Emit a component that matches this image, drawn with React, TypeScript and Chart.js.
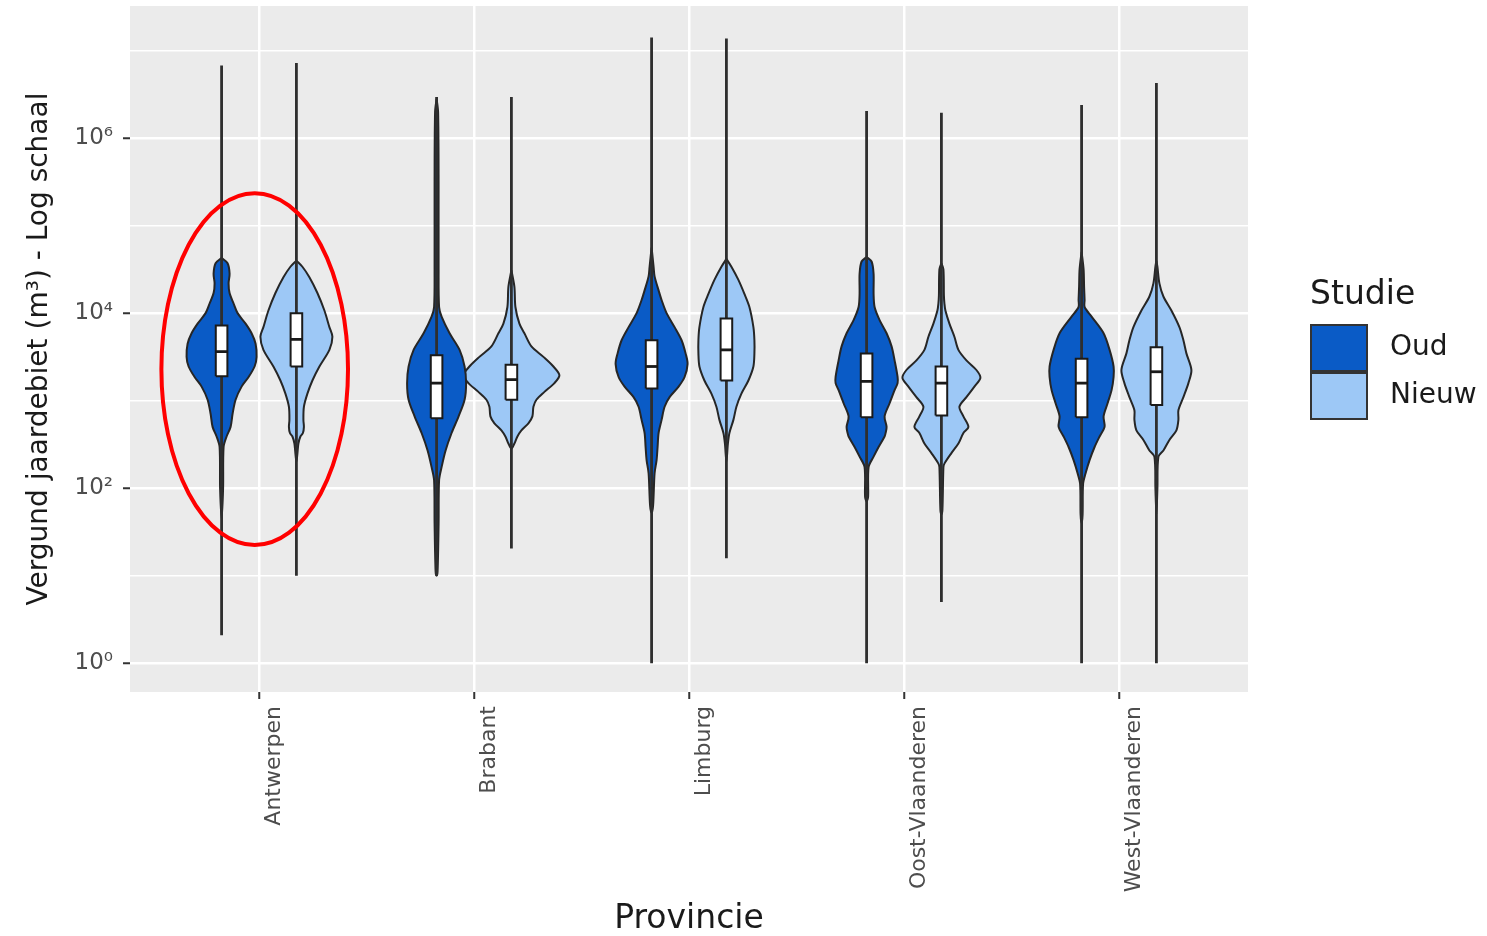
import React, { useEffect, useRef } from 'react';
import { Chart, registerables } from 'chart.js';

Chart.register(...registerables);

// ---------- DATA (y values are log10 of m³) ----------
const provinces = ['Antwerpen', 'Brabant', 'Limburg', 'Oost-Vlaanderen', 'West-Vlaanderen'];
const studies = ['Oud', 'Nieuw'];

const yTickExponents = [0, 1, 2, 3, 4, 5, 6, 7];
const yLabelExponents = [0, 2, 4, 6];

// full range of each violin (min / max, log10 m³)
const oudMinExp = [0.32, 1.0, 0.0, 0.0, 0.0];
const oudMaxExp = [6.83, 6.47, 7.15, 6.31, 6.38];
const nieuwMinExp = [1.0, 1.31, 1.2, 0.7, 0.0];
const nieuwMaxExp = [6.86, 6.47, 7.14, 6.29, 6.63];

// box plot quartiles (log10 m³)
const oudQ1 = [3.28, 2.8, 3.14, 2.81, 2.81];
const oudMedian = [3.56, 3.2, 3.39, 3.22, 3.2];
const oudQ3 = [3.86, 3.52, 3.69, 3.54, 3.48];
const nieuwQ1 = [3.39, 3.01, 3.23, 2.83, 2.95];
const nieuwMedian = [3.7, 3.24, 3.58, 3.2, 3.33];
const nieuwQ3 = [4.0, 3.41, 3.94, 3.39, 3.61];

// violin density profiles: [log10 m³, relative density]
const oudViolins = [
  [[4.63, 0], [4.57, 6], [4.45, 8], [4.34, 7], [4.23, 8], [4.11, 12], [4.0, 16], [3.88, 24], [3.77, 30], [3.65, 34], [3.5, 35], [3.39, 33], [3.27, 27], [3.16, 20], [3.01, 14], [2.85, 11], [2.7, 9], [2.59, 5], [2.47, 2], [2.0, 1.5], [1.65, 0]],
  [[6.45, 0], [6.3, 1.5], [5.5, 2], [4.5, 2], [4.07, 2.5], [3.96, 5], [3.77, 13], [3.58, 23], [3.39, 28], [3.2, 29.5], [3.01, 28], [2.82, 22], [2.63, 15], [2.43, 9], [2.24, 5], [2.09, 2.5], [1.6, 2], [1.05, 1], [1.0, 0]],
  [[4.75, 0], [4.53, 2], [4.42, 3], [4.26, 7], [4.15, 10], [4.0, 15], [3.84, 23], [3.69, 30], [3.54, 34], [3.42, 36], [3.27, 33], [3.16, 27], [3.04, 18], [2.93, 13], [2.78, 10], [2.63, 7], [2.47, 6], [2.32, 5], [2.17, 3], [1.8, 1.5], [1.72, 0]],
  [[4.64, 0], [4.59, 5], [4.45, 7], [4.22, 7], [4.07, 8], [3.92, 13], [3.77, 20], [3.62, 25], [3.46, 28], [3.27, 31], [3.2, 31], [3.12, 28], [2.97, 23], [2.82, 18], [2.7, 20], [2.63, 19], [2.59, 18], [2.47, 12], [2.36, 7], [2.24, 2], [1.9, 1.5], [1.85, 0]],
  [[4.7, 0], [4.5, 2], [4.3, 2.5], [4.15, 3], [4.07, 3], [3.96, 10], [3.77, 22], [3.58, 28], [3.39, 32], [3.27, 32], [3.12, 30], [2.97, 26], [2.82, 22], [2.7, 23], [2.59, 18], [2.47, 13], [2.32, 8], [2.17, 4], [2.05, 1.5], [1.7, 1], [1.6, 0]],
];
const nieuwViolins = [
  [[4.6, 0], [4.53, 6], [4.41, 13], [4.23, 21], [4.03, 28], [3.84, 33], [3.73, 36], [3.58, 33], [3.39, 23], [3.23, 16], [3.08, 11], [2.93, 7.5], [2.78, 7], [2.7, 7.5], [2.63, 6.5], [2.59, 4], [2.51, 2], [2.3, 0]],
  [[4.49, 0], [4.3, 3], [4.07, 4], [3.88, 8], [3.77, 13], [3.62, 20], [3.5, 32], [3.39, 42], [3.29, 48], [3.2, 43], [3.1, 33], [3.01, 25], [2.93, 22], [2.82, 21], [2.74, 17], [2.66, 10], [2.59, 6], [2.51, 3], [2.45, 0]],
  [[4.62, 0], [4.53, 5], [4.38, 12], [4.22, 18], [4.07, 23], [3.84, 27], [3.69, 28], [3.54, 28], [3.39, 27], [3.23, 22], [3.08, 15], [2.93, 10], [2.78, 7], [2.63, 3], [2.51, 1.5], [2.3, 0]],
  [[4.57, 0], [4.5, 2], [4.2, 2.5], [4.11, 3], [4.03, 4], [3.88, 8], [3.73, 13], [3.58, 17], [3.46, 25], [3.35, 35], [3.26, 39], [3.16, 33], [3.04, 25], [2.93, 18], [2.82, 22], [2.7, 27], [2.63, 22], [2.51, 17], [2.4, 10], [2.28, 3], [2.24, 2], [1.75, 1], [1.7, 0]],
  [[4.6, 0], [4.53, 1], [4.34, 3], [4.19, 7], [4.03, 15], [3.84, 23], [3.69, 27], [3.54, 30], [3.35, 35], [3.2, 32], [3.04, 27], [2.89, 22], [2.78, 22], [2.66, 20], [2.55, 13], [2.43, 7], [2.36, 2], [2.0, 1], [1.7, 0]],
];

// highlighted group (red ellipse), in axis units
const highlightCenterX = 0.98;
const highlightHalfWidthX = 0.434;
const highlightCenterExp = 3.36;
const highlightHalfSpanExp = 2.01;

// ---------- STYLE ----------
const studyColors = ['#0a5bc6', '#9dc8f6'];
const outlineColor = '#262626';
const FONT = '"DejaVu Sans", "Liberation Sans", Arial, sans-serif';
const DODGE = 0.174; // offset of each study inside a province (x units)
const DENSITY_TO_X = 1 / 215; // violin width scale
const BOX_HALF = 0.027;

const SUP: Record<string, string> = { '0': '⁰', '1': '¹', '2': '²', '3': '³', '4': '⁴', '5': '⁵', '6': '⁶', '7': '⁷', '8': '⁸', '9': '⁹' };

function pt(x: number, e: number) {
  return { x, y: Math.pow(10, e) };
}

function buildDatasets() {
  const ds: any[] = [];
  const groups = [
    { violins: oudViolins, mins: oudMinExp, maxs: oudMaxExp, q1: oudQ1, med: oudMedian, q3: oudQ3, off: -DODGE, color: studyColors[0] },
    { violins: nieuwViolins, mins: nieuwMinExp, maxs: nieuwMaxExp, q1: nieuwQ1, med: nieuwMedian, q3: nieuwQ3, off: DODGE, color: studyColors[1] },
  ];
  groups.forEach((g, s) => {
    provinces.forEach((p, i) => {
      const cx = i + 1 + g.off;
      const prof = g.violins[i];
      const right = prof.map(([e, d]) => pt(cx + d * DENSITY_TO_X, e));
      const left = prof.slice().reverse().map(([e, d]) => pt(cx - d * DENSITY_TO_X, e));
      ds.push({
        label: `${studies[s]} ${p} violin`,
        data: [...right, ...left.slice(1)],
        showLine: true,
        fill: 'shape',
        backgroundColor: g.color,
        borderColor: outlineColor,
        borderWidth: 2,
        pointRadius: 0,
        tension: 0.3,
        order: 4,
      });
      ds.push({
        label: `${studies[s]} ${p} range`,
        data: [pt(cx, g.mins[i]), pt(cx, g.maxs[i])],
        showLine: true,
        fill: false,
        borderColor: '#2e2e2e',
        borderWidth: 2.8,
        pointRadius: 0,
        order: 3,
      });
      ds.push({
        label: `${studies[s]} ${p} box`,
        data: [
          pt(cx - BOX_HALF, g.q1[i]),
          pt(cx + BOX_HALF, g.q1[i]),
          pt(cx + BOX_HALF, g.q3[i]),
          pt(cx - BOX_HALF, g.q3[i]),
          pt(cx - BOX_HALF, g.q1[i]),
        ],
        showLine: true,
        fill: 'shape',
        backgroundColor: '#ffffff',
        borderColor: '#1a1a1a',
        borderWidth: 2,
        pointRadius: 0,
        order: 2,
      });
      ds.push({
        label: `${studies[s]} ${p} median`,
        data: [pt(cx - BOX_HALF, g.med[i]), pt(cx + BOX_HALF, g.med[i])],
        showLine: true,
        fill: false,
        borderColor: '#1a1a1a',
        borderWidth: 2.8,
        pointRadius: 0,
        order: 1,
      });
    });
  });
  return ds;
}

const panelBackground = {
  id: 'panelBackground',
  beforeDraw(chart: any) {
    const { ctx, chartArea } = chart;
    ctx.save();
    ctx.fillStyle = '#ebebeb';
    ctx.fillRect(chartArea.left, chartArea.top, chartArea.right - chartArea.left, chartArea.bottom - chartArea.top);
    ctx.restore();
  },
};

const highlightEllipse = {
  id: 'highlightEllipse',
  afterDatasetsDraw(chart: any) {
    const { ctx } = chart;
    const xs = chart.scales.x;
    const ys = chart.scales.y;
    const cx = xs.getPixelForValue(highlightCenterX);
    const rx = Math.abs(xs.getPixelForValue(highlightCenterX + highlightHalfWidthX) - cx);
    const top = ys.getPixelForValue(Math.pow(10, highlightCenterExp + highlightHalfSpanExp));
    const bottom = ys.getPixelForValue(Math.pow(10, highlightCenterExp - highlightHalfSpanExp));
    ctx.save();
    ctx.beginPath();
    ctx.ellipse(cx, (top + bottom) / 2, rx, (bottom - top) / 2, 0, 0, Math.PI * 2);
    ctx.strokeStyle = '#ff0000';
    ctx.lineWidth = 4;
    ctx.stroke();
    ctx.restore();
  },
};

const studieLegend = {
  id: 'studieLegend',
  afterDraw(chart: any) {
    const { ctx, chartArea } = chart;
    const x0 = chartArea.right + 63;
    ctx.save();
    ctx.textAlign = 'left';
    ctx.textBaseline = 'middle';
    ctx.fillStyle = '#1a1a1a';
    ctx.font = `33px ${FONT}`;
    ctx.fillText('Studie', x0 - 1, chartArea.top + 289);
    studies.forEach((s, i) => {
      const y = chartArea.top + 319 + i * 48;
      ctx.fillStyle = studyColors[i];
      ctx.fillRect(x0, y, 56, 46);
      ctx.strokeStyle = '#333333';
      ctx.lineWidth = 2;
      ctx.strokeRect(x0, y, 56, 46);
      ctx.fillStyle = '#1a1a1a';
      ctx.font = `28px ${FONT}`;
      ctx.fillText(s, x0 + 79, y + 23);
    });
    ctx.restore();
  },
};

export default function App() {
  const canvasRef = useRef<HTMLCanvasElement | null>(null);

  useEffect(() => {
    document.body.style.margin = '0';
    const canvas = canvasRef.current;
    if (!canvas) return;
    const chart = new Chart(canvas, {
      type: 'scatter',
      data: { datasets: buildDatasets() },
      plugins: [panelBackground, highlightEllipse, studieLegend],
      options: {
        animation: false,
        responsive: true,
        maintainAspectRatio: false,
        events: [],
        layout: { padding: { left: 0, right: 239, top: 6, bottom: 0 } },
        plugins: {
          legend: { display: false },
          tooltip: { enabled: false },
        },
        scales: {
          x: {
            type: 'linear',
            min: 0.4,
            max: 5.6,
            afterBuildTicks: (scale: any) => {
              scale.ticks = provinces.map((_, i) => ({ value: i + 1 }));
            },
            afterFit: (scale: any) => {
              scale.height = 244;
              scale.paddingLeft = 0;
              scale.paddingRight = 0;
            },
            ticks: {
              autoSkip: false,
              minRotation: 90,
              maxRotation: 90,
              padding: 7,
              labelOffset: 15,
              color: '#4d4d4d',
              font: { family: FONT, size: 22 },
              callback: (v: any) => provinces[Math.round(Number(v)) - 1] ?? '',
            },
            grid: { color: '#ffffff', lineWidth: 2.5, tickColor: '#333333', tickLength: 7, tickWidth: 2 },
            border: { display: false },
            title: {
              display: true,
              text: 'Provincie',
              color: '#1a1a1a',
              font: { family: FONT, size: 33, lineHeight: 1 },
              padding: { top: 0, bottom: 0 },
            },
          },
          y: {
            type: 'logarithmic',
            min: Math.pow(10, -0.33),
            max: Math.pow(10, 7.51),
            afterBuildTicks: (scale: any) => {
              scale.ticks = yTickExponents.map((e) => ({ value: Math.pow(10, e) }));
            },
            afterFit: (scale: any) => {
              scale.width = 130;
              scale.paddingTop = 0;
              scale.paddingBottom = 0;
            },
            ticks: {
              autoSkip: false,
              padding: 10,
              color: '#4d4d4d',
              font: { family: FONT, size: 23 },
              callback: (v: any) => {
                const e = Math.round(Math.log10(Number(v)));
                if (!yLabelExponents.includes(e)) return '';
                return '10' + String(e).split('').map((c) => SUP[c]).join('');
              },
            },
            grid: {
              color: '#ffffff',
              lineWidth: (ctx: any) => {
                const e = ctx.tick ? Math.round(Math.log10(ctx.tick.value)) : 0;
                return yLabelExponents.includes(e) ? 2.5 : 1.6;
              },
              tickColor: (ctx: any) => {
                const e = ctx.tick ? Math.round(Math.log10(ctx.tick.value)) : 0;
                return yLabelExponents.includes(e) ? '#333333' : 'rgba(0,0,0,0)';
              },
              tickLength: 7,
              tickWidth: 2,
            },
            border: { display: false },
            title: {
              display: true,
              text: 'Vergund jaardebiet (m³) - Log schaal',
              color: '#1a1a1a',
              font: { family: FONT, size: 28 },
              padding: { top: 23, bottom: 0 },
            },
          },
        },
      } as any,
    });
    return () => chart.destroy();
  }, []);

  return (
    <div style={{ position: 'absolute', left: 0, top: 0, width: 1487, height: 936, background: '#ffffff' }}>
      <canvas ref={canvasRef} />
    </div>
  );
}
